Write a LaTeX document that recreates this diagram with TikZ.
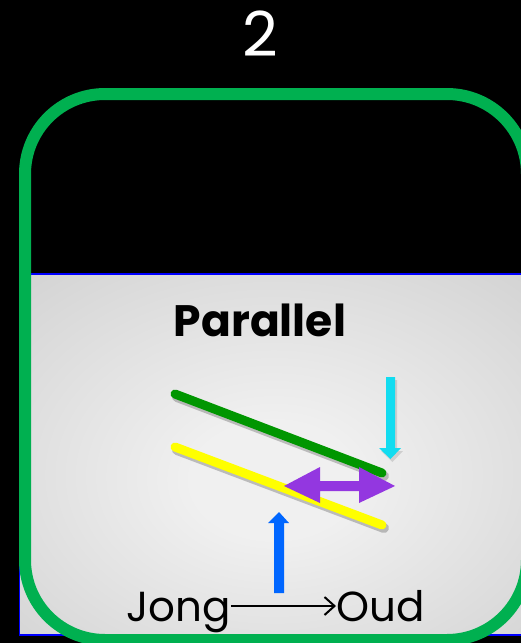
\documentclass[tikz,border=0pt]{standalone}
\usepackage{fontspec}
\setmainfont{Poppins}
\usetikzlibrary{arrows.meta}
\definecolor{framegreen}{RGB}{0,176,80}
\definecolor{linegreen}{RGB}{0,150,0}
\definecolor{lineyellow}{RGB}{255,255,0}
\definecolor{arrcyan}{RGB}{18,220,240}
\definecolor{arrpurple}{RGB}{147,55,224}
\definecolor{arrblue}{RGB}{0,102,255}
\definecolor{gradin}{RGB}{240,240,240}
\definecolor{gradmid}{RGB}{204,204,204}
\definecolor{gradout}{RGB}{182,182,182}
\pgfdeclareradialshading{panelshade}{\pgfpoint{0bp}{-4bp}}{color(0bp)=(gradin); color(8bp)=(gradin); color(44bp)=(gradmid); color(72bp)=(gradout)}
\tikzset{
  frame/.style={draw=framegreen, line width=12pt, rounded corners=80pt},
  panel/.style={draw=blue, line width=1.5pt, shading=panelshade},
  seg/.style={line width=9pt, line cap=round},
  segshadow/.style={line width=10pt, line cap=round, draw=black, opacity=0.22},
  label/.style={inner sep=0pt, text=black},
}
\begin{document}
\begin{tikzpicture}[x=1pt,y=-1pt]
\useasboundingbox (0,0) rectangle (521,643);
\clip (0,0) rectangle (521,643);
\fill[black] (0,0) rectangle (521,643);
% number
\node[inner sep=0pt, text=white, font=\fontsize{62}{62}\selectfont, anchor=base] (num) at (260,56) {2};
% gray panel
\path[panel] (19.5,274) rectangle (528,635);
% lines with shadows
\draw[segshadow] (177,397) -- (384,476);
\draw[segshadow] (177,450) -- (384,528);
\coordinate (g1) at (175,394);
\coordinate (g2) at (382,473);
\coordinate (y1) at (175,447);
\coordinate (y2) at (382,525);
\draw[seg, linegreen] (g1) -- (g2);
\draw[seg, lineyellow] (y1) -- (y2);
% cyan arrow
\fill[black, opacity=0.12] (388,380) -- (397,380) -- (397,451) -- (403,451) -- (392.5,462) -- (381,451) -- (388,451) -- cycle;
\fill[arrcyan] (386,377) -- (395,377) -- (395,448) -- (401,448) -- (390.5,459) -- (379,448) -- (386,448) -- cycle;
% purple double arrow
\fill[arrpurple] (284,486) -- (320,467) -- (320,481) -- (359,481) -- (359,467) -- (395,486) -- (359,503) -- (359,491) -- (320,491) -- (320,503) -- cycle;
% blue arrow
\fill[arrblue] (274,593) -- (274,523) -- (268,523) -- (279,512) -- (289,523) -- (284,523) -- (284,593) -- cycle;
% title
\node[label, font=\bfseries\fontsize{44}{44}\selectfont, anchor=base] (title) at (260,336) {Parallel};
% bottom labels
\node[label, font=\fontsize{42}{42}\selectfont, anchor=base west] (jong) at (126,621) {Jong};
\node[label, font=\fontsize{42}{42}\selectfont, anchor=base west] (oud) at (336,621) {Oud};
\draw[line width=2pt, -{Straight Barb[length=10pt, width=18pt, line width=2pt]}] (jong.east |- 0,606) -- (oud.west |- 0,606);
% frame
\draw[frame] (25,94) rectangle (527,640);
\end{tikzpicture}
\end{document}
